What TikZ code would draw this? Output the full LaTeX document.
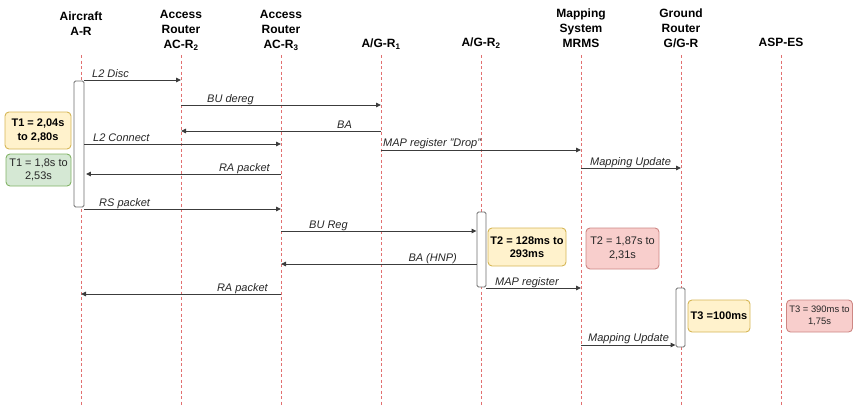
\documentclass[tikz,border=0pt]{standalone}
\usepackage{fontspec}
\setmainfont{Liberation Sans}
\usetikzlibrary{arrows.meta}

\definecolor{lifeln}{RGB}{226,112,112}
\definecolor{msgc}{RGB}{60,60,60}
\definecolor{actd}{RGB}{110,110,110}
\definecolor{yelf}{HTML}{FFF2CC}\definecolor{yeld}{HTML}{D6B656}
\definecolor{grnf}{HTML}{D5E8D4}\definecolor{grnd}{HTML}{82B366}
\definecolor{redf}{HTML}{F8CECC}\definecolor{redd}{HTML}{B85450}

\tikzset{
  hdr/.style={font=\fontsize{12}{15}\selectfont\bfseries, align=center, inner sep=0pt, anchor=north},
  life/.style={draw=lifeln, line width=0.6pt, dash pattern=on 3pt off 2.5pt},
  msg/.style={draw=msgc, line width=0.9pt, -{Triangle[length=5pt,width=4.5pt]}},
  lbl/.style={font=\fontsize{11}{13}\selectfont\itshape, inner sep=0pt, text=black!85},
  actbox/.style={draw=actd, fill=white, line width=0.9pt, rounded corners=1.5pt, inner sep=0pt},
  note/.style={rounded corners=4pt, line width=0.9pt, align=center, inner sep=0pt,
    font=\fontsize{11}{13.5}\selectfont, text=black!85},
  ynote/.style={note, draw=yeld, fill=yelf, font=\fontsize{11}{13.5}\selectfont\bfseries, text=black},
  gnote/.style={note, draw=grnd, fill=grnf},
  rnote/.style={note, draw=redd!70, fill=redf}
}

\begin{document}
\begin{tikzpicture}[x=1pt,y=-1pt]
\useasboundingbox (0,0) rectangle (854,405);

% participants
\node[hdr] (hA) at (81,12)  {Aircraft\\A-R};
\node[hdr] (hB) at (181,10) {Access\\Router\\AC-R\textsubscript{2}};
\node[hdr] (hC) at (281,10) {Access\\Router\\AC-R\textsubscript{3}};
\node[hdr] (hD) at (381,39) {A/G-R\textsubscript{1}};
\node[hdr] (hE) at (481,38) {A/G-R\textsubscript{2}};
\node[hdr] (hF) at (581,9)  {Mapping\\System\\MRMS};
\node[hdr] (hG) at (681,9)  {Ground\\Router\\G/G-R};
\node[hdr] (hH) at (781,38) {ASP-ES};

% lifelines
\foreach \n/\x in {A/81,B/181,C/281,D/381,E/481,F/581,G/681,H/781}{
  \coordinate (l\n) at (\x,55);
  \coordinate (b\n) at (\x,405);
  \draw[life] (l\n) -- (b\n);
}

% activations
\node[actbox, minimum width=10pt, minimum height=126pt] (act1) at (79,144) {};
\node[actbox, minimum width=9pt, minimum height=75pt] (act2) at (481.5,249.5) {};
\node[actbox, minimum width=9pt, minimum height=59pt] (act3) at (680.5,317.5) {};

% messages
\draw[msg] (act1.east |- 0,80) -- (lB |- 0,80);
\node[lbl, anchor=base west] (m1) at (92,77) {L2 Disc};

\draw[msg] (lB |- 0,105) -- (lD |- 0,105);
\node[lbl, anchor=base west] (m2) at (207,102) {BU dereg};

\draw[msg] (lD |- 0,131) -- (lB |- 0,131);
\node[lbl, anchor=base west] (m3) at (337,128) {BA};

\draw[msg] (act1.east |- 0,144) -- (lC |- 0,144);
\node[lbl, anchor=base west] (m4) at (93,141) {L2 Connect};

\draw[msg] (lD |- 0,150) -- (lF |- 0,150);
\node[lbl, anchor=base west] (m5) at (383,146.5) {MAP register "Drop"};

\draw[msg] (lF |- 0,168) -- (lG |- 0,168);
\node[lbl, anchor=base west] (m6) at (590,165) {Mapping Update};

\draw[msg] (lC |- 0,174) -- ([xshift=1.5pt]act1.east |- 0,174);
\node[lbl, anchor=base east] (m7) at (270,171) {RA packet};

\draw[msg] (act1.east |- 0,209) -- (lC |- 0,209);
\node[lbl, anchor=base west] (m8) at (99,206) {RS packet};

\draw[msg] (lC |- 0,231) -- (act2.west |- 0,231);
\node[lbl, anchor=base west] (m9) at (309,228) {BU Reg};

\draw[msg] (act2.west |- 0,264) -- (lC |- 0,264);
\node[lbl, anchor=base east] (m10) at (457,261.5) {BA (HNP)};

\draw[msg] (act2.east |- 0,288) -- (lF |- 0,288);
\node[lbl, anchor=base west] (m11) at (495,285) {MAP register};

\draw[msg] (lC |- 0,294) -- (lA |- 0,294);
\node[lbl, anchor=base east] (m12) at (268,291) {RA packet};

\draw[msg] (lF |- 0,345) -- (act3.west |- 0,345);
\node[lbl, anchor=base west] (m13) at (588,341.5) {Mapping Update};

% timing notes
\node[ynote, minimum width=66pt, minimum height=37pt] (t1a) at (38,130.5) {T1 = 2,04s\\to 2,80s};
\node[gnote, minimum width=65pt, minimum height=32pt] (t1b) at (38.5,170) {T1 = 1,8s to\\2,53s};
\node[ynote, minimum width=78pt, minimum height=38pt] (t2a) at (527,247) {T2 = 128ms to\\293ms};
\node[rnote, minimum width=73pt, minimum height=41pt] (t2b) at (622.5,248.5) {T2 = 1,87s to\\2,31s};
\node[ynote, minimum width=62pt, minimum height=32pt] (t3a) at (719,316) {T3 =100ms};
\node[rnote, minimum width=66pt, minimum height=32pt, font=\fontsize{9.4}{12}\selectfont] (t3b) at (819.5,316) {T3 = 390ms to\\1,75s};
\end{tikzpicture}
\end{document}
